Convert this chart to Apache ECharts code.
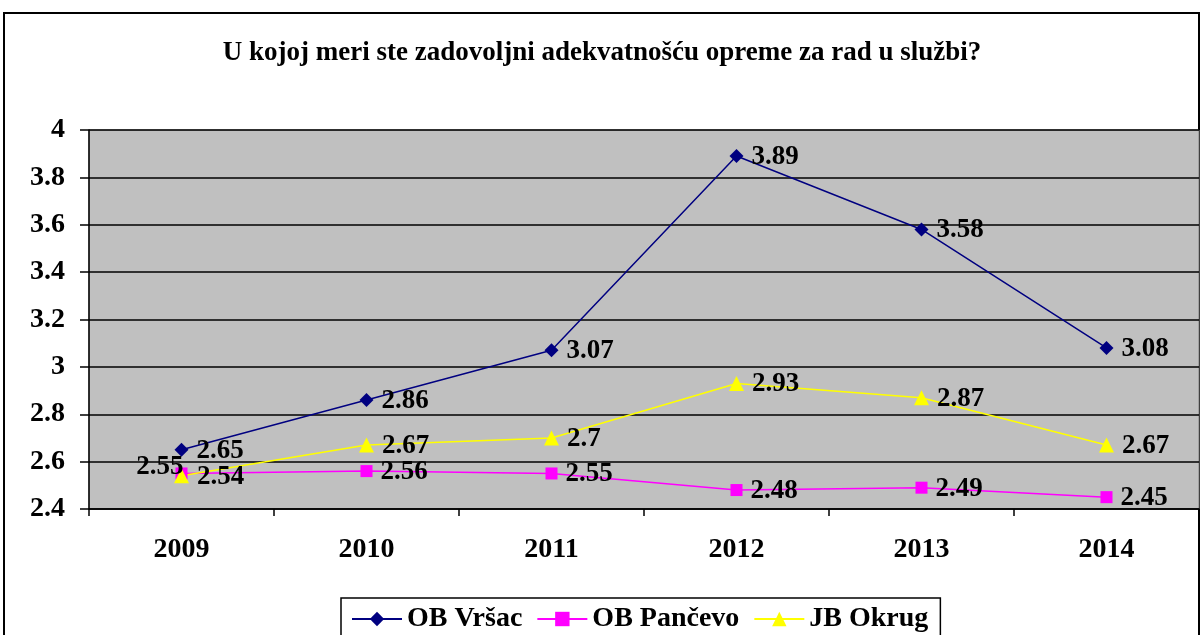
<!DOCTYPE html>
<html><head><meta charset="utf-8">
<script src="https://cdn.jsdelivr.net/npm/echarts@6/dist/echarts.min.js"></script>
<style>html,body{margin:0;padding:0;background:#fff}#c{width:1204px;height:635px}</style>
</head><body><div id="c"></div>
<script>
const titleText = 'U kojoj meri ste zadovoljni adekvatnošću opreme za rad u službi?';
const categories = ['2009','2010','2011','2012','2013','2014'];
const vrsac = [2.65, 2.86, 3.07, 3.89, 3.58, 3.08];
const pancevo = [2.55, 2.56, 2.55, 2.48, 2.49, 2.45];
const okrug = [2.54, 2.67, 2.7, 2.93, 2.87, 2.67];
const seriesNames = ['OB Vršac', 'OB Pančevo', 'JB Okrug'];

const FONT = '"Liberation Serif", "Times New Roman", serif';
const chart = echarts.init(document.getElementById('c'), null, {renderer:'canvas'});
const lbl = {show:true, position:'right', distance:8, color:'#000', fontFamily:FONT, fontWeight:'bold', fontSize:27, offset:[0,1]};
function mk(name, data, color, symbol, size){
  return {
    name, type:'line', data, symbol, symbolSize:size, showSymbol:true,
    lineStyle:{color, width:1.5}, itemStyle:{color, borderWidth:0},
    label: Object.assign({}, lbl), animation:false, z:3
  };
}
const pData = pancevo.map((v,i)=> i===0 ? {value:v, label:{position:'left', distance:-8, offset:[0,-6]}} : v);
chart.setOption({
  backgroundColor:'#fff',
  animation:false,
  title:{text:titleText, left:'center', top:35, textStyle:{fontFamily:FONT, fontWeight:'bold', fontSize:27, color:'#000'}},
  grid:{left:89, right:5, top:130, bottom:126, show:true, backgroundColor:'#c0c0c0', borderColor:'#808080', borderWidth:1},
  xAxis:{type:'category', data:categories, boundaryGap:true,
    axisLine:{lineStyle:{color:'#000', width:1.5}},
    axisTick:{show:true, length:7, lineStyle:{color:'#000', width:1.5}},
    axisLabel:{color:'#000', fontFamily:FONT, fontWeight:'bold', fontSize:28, margin:27}},
  yAxis:{type:'value', min:2.4, max:4, interval:0.2,
    axisLine:{show:true, lineStyle:{color:'#000', width:1.5}},
    axisTick:{show:true, length:9, lineStyle:{color:'#000', width:1.5}},
    splitLine:{show:true, lineStyle:{color:'#000', width:1.5}},
    axisLabel:{color:'#000', fontFamily:FONT, fontWeight:'bold', fontSize:28, margin:24, formatter:v=>String(Math.round(v*10)/10)}},
  legend:{bottom:-12, left:341, data:seriesNames, itemWidth:50, itemHeight:18, itemGap:14,
    borderColor:'#000', borderWidth:1.5, padding:[7,12,14,10],
    textStyle:{fontFamily:FONT, fontWeight:'bold', fontSize:28, color:'#000'}},
  series:[
    mk(seriesNames[0], vrsac, '#000080', 'diamond', 14),
    mk(seriesNames[1], pData, '#ff00ff', 'rect', 12),
    mk(seriesNames[2], okrug, '#ffff00', 'triangle', 15)
  ],
  graphic:[{type:'rect', shape:{x:4, y:13, width:1195, height:640}, style:{fill:'none', stroke:'#000', lineWidth:2}, silent:true, z:-1}]
});
</script></body></html>
